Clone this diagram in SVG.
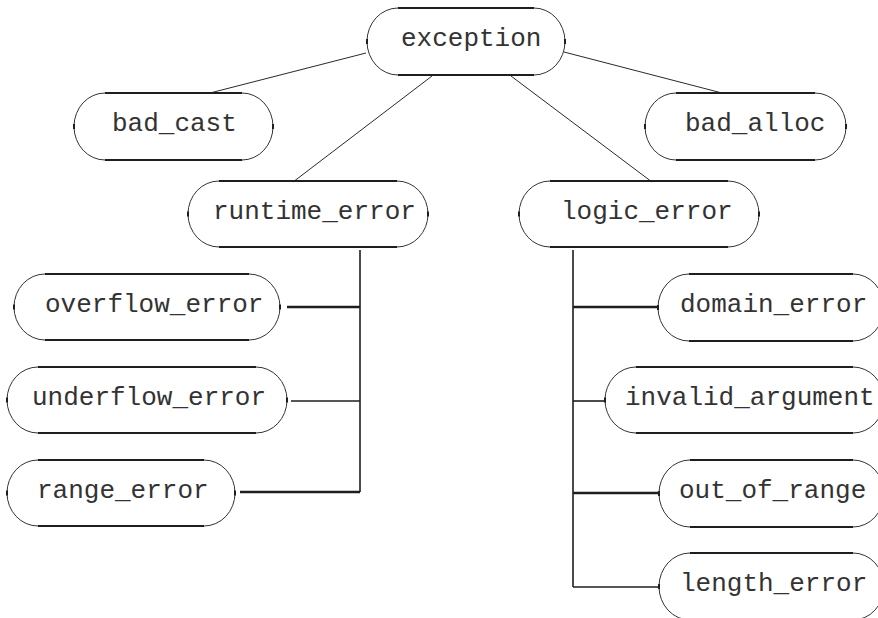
<svg xmlns="http://www.w3.org/2000/svg" width="878" height="618" viewBox="0 0 878 618">
<style>
.bg{fill:#ffffff}
.flat{fill:none;stroke:#1e1e1e;stroke-width:2.2}
.arc{fill:none;stroke:#333333;stroke-width:1}
.tick{fill:none;stroke:#1e1e1e;stroke-width:2}
.lbl{font-family:"Nimbus Mono PS","Courier New",Courier,"FreeMono","Liberation Mono",monospace;font-size:26px;fill:#333333}
.thin{fill:none;stroke:#2a2a2a;stroke-width:1}
.mid{fill:none;stroke:#1e1e1e;stroke-width:1.6}
.bold{fill:none;stroke:#1e1e1e;stroke-width:2.4}
</style>
<rect class="bg" x="0" y="0" width="878" height="618"/>
<g id="connectors">
<path class="thin" d="M366,53 L210,93"/>
<path class="thin" d="M432,76 L293,182"/>
<path class="thin" d="M511,76 L652,182"/>
<path class="thin" d="M564,52 L722,93"/>
<path class="mid" d="M360,250 V492"/>
<path class="bold" d="M287,307 H360"/>
<path class="mid" d="M291,401 H360"/>
<path class="bold" d="M240,492 H360"/>
<path class="mid" d="M573,250 V587"/>
<path class="bold" d="M573,307 H658"/>
<path class="mid" d="M573,401 H605"/>
<path class="bold" d="M573,493 H659"/>
<path class="mid" d="M573,587 H659"/>
</g>
<g id="exception">
<path class="flat" d="M398,8 H534 M398,75 H534"/>
<path class="arc" d="M398,8 A31,33.5 0 0 0 398,75 M534,8 A31,33.5 0 0 1 534,75"/>
<path class="tick" d="M367,39 V44 M565,39 V44"/>
<text class="lbl" x="401" y="46">exception</text>
</g>
<g id="bad_cast">
<path class="flat" d="M105,93 H242 M105,160 H242"/>
<path class="arc" d="M105,93 A31,33.5 0 0 0 105,160 M242,93 A31,33.5 0 0 1 242,160"/>
<path class="tick" d="M74,124 V129 M273,124 V129"/>
<text class="lbl" x="112" y="131">bad_cast</text>
</g>
<g id="bad_alloc">
<path class="flat" d="M676,93 H815 M676,160 H815"/>
<path class="arc" d="M676,93 A31,33.5 0 0 0 676,160 M815,93 A31,33.5 0 0 1 815,160"/>
<path class="tick" d="M645,124 V129 M846,124 V129"/>
<text class="lbl" x="685" y="131">bad_alloc</text>
</g>
<g id="runtime_error">
<path class="flat" d="M219,181 H397 M219,247 H397"/>
<path class="arc" d="M219,181 A31,33 0 0 0 219,247 M397,181 A31,33 0 0 1 397,247"/>
<path class="tick" d="M188,211.5 V216.5 M428,211.5 V216.5"/>
<text class="lbl" x="213" y="218.5">runtime_error</text>
</g>
<g id="logic_error">
<path class="flat" d="M550,181 H728 M550,247 H728"/>
<path class="arc" d="M550,181 A31,33 0 0 0 550,247 M728,181 A31,33 0 0 1 728,247"/>
<path class="tick" d="M519,211.5 V216.5 M759,211.5 V216.5"/>
<text class="lbl" x="561" y="218.5">logic_error</text>
</g>
<g id="overflow_error">
<path class="flat" d="M45,274 H249 M45,340 H249"/>
<path class="arc" d="M45,274 A31,33 0 0 0 45,340 M249,274 A31,33 0 0 1 249,340"/>
<path class="tick" d="M14,304.5 V309.5 M280,304.5 V309.5"/>
<text class="lbl" x="45" y="311.5">overflow_error</text>
</g>
<g id="underflow_error">
<path class="flat" d="M38,367 H256 M38,433 H256"/>
<path class="arc" d="M38,367 A31,33 0 0 0 38,433 M256,367 A31,33 0 0 1 256,433"/>
<path class="tick" d="M7,397.5 V402.5 M287,397.5 V402.5"/>
<text class="lbl" x="32" y="404.5">underflow_error</text>
</g>
<g id="range_error">
<path class="flat" d="M38,460 H204 M38,526 H204"/>
<path class="arc" d="M38,460 A31,33 0 0 0 38,526 M204,460 A31,33 0 0 1 204,526"/>
<path class="tick" d="M7,490.5 V495.5 M235,490.5 V495.5"/>
<text class="lbl" x="37" y="497.5">range_error</text>
</g>
<g id="domain_error">
<path class="flat" d="M689,274 H853 M689,341 H853"/>
<path class="arc" d="M689,274 A31,33.5 0 0 0 689,341 M853,274 A31,33.5 0 0 1 853,341"/>
<path class="tick" d="M658,305 V310"/>
<text class="lbl" x="680" y="312">domain_error</text>
</g>
<g id="invalid_argument">
<path class="flat" d="M636,367 H853 M636,433 H853"/>
<path class="arc" d="M636,367 A31,33 0 0 0 636,433 M853,367 A31,33 0 0 1 853,433"/>
<path class="tick" d="M605,397.5 V402.5"/>
<text class="lbl" x="625" y="404.5">invalid_argument</text>
</g>
<g id="out_of_range">
<path class="flat" d="M690,460 H853 M690,527 H853"/>
<path class="arc" d="M690,460 A31,33.5 0 0 0 690,527 M853,460 A31,33.5 0 0 1 853,527"/>
<path class="tick" d="M659,491 V496"/>
<text class="lbl" x="679" y="498">out_of_range</text>
</g>
<g id="length_error">
<path class="flat" d="M690,553 H853 M690,620 H853"/>
<path class="arc" d="M690,553 A31,33.5 0 0 0 690,620 M853,553 A31,33.5 0 0 1 853,620"/>
<path class="tick" d="M659,584 V589"/>
<text class="lbl" x="680" y="591">length_error</text>
</g>
</svg>
